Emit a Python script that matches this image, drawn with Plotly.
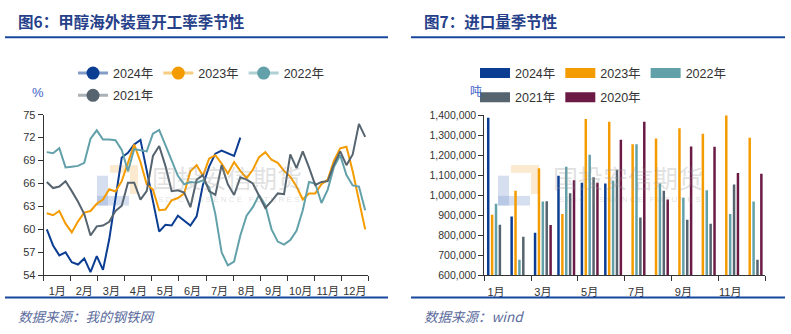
import plotly.graph_objects as go

# ---------------- data: left chart (weekly operating rate, %) ----------------
rate_2024 = [60.0, 57.9, 56.6, 57.0, 55.7, 55.4, 56.2, 54.4, 56.5, 54.7, 58.7, 64.2,
             69.4, 70.0, 71.1, 71.7, 67.8, 63.7, 59.7, 60.6, 60.5, 61.8, 61.2, 60.5,
             61.7, 65.8, 68.2, 69.9, 70.3, 70.0, 69.6, 72.0]
rate_2023 = [62.1, 61.85, 62.4, 60.75, 59.6, 61.05, 62.2, 62.4, 63.35, 63.9, 65.25, 64.95,
             66.3, 68.6, 71.1, 68.8, 65.9, 65.2, 62.5, 62.6, 63.8, 64.1, 64.7, 67.6,
             68.4, 67.0, 69.25, 69.7, 68.6, 67.3, 68.8, 67.65, 66.7, 67.8, 69.45, 70.1,
             69.1, 68.7, 67.65, 66.9, 65.6, 63.9, 64.7, 64.7, 65.9, 66.5, 69.0, 70.6,
             70.8, 67.6, 63.8, 60.0]
rate_2022 = [70.1, 69.95, 70.6, 68.1, 68.2, 68.3, 68.7, 71.85, 72.95, 71.75, 71.75, 71.65,
             70.4, 67.6, 70.5, 70.3, 70.2, 72.5, 73.0, 71.0, 69.0, 67.0, 65.9, 66.2,
             66.1, 66.4, 65.5, 62.0, 57.0, 55.3, 55.8, 59.2, 61.8, 62.9, 64.5, 63.2,
             60.0, 58.4, 58.0, 58.6, 59.8, 62.5, 66.2, 66.0, 63.45, 65.2, 68.2, 69.7,
             67.1, 65.75, 65.6, 62.5]
rate_2021 = [66.2, 65.4, 65.6, 66.3, 65.0, 63.6, 62.0, 59.2, 60.4, 60.5, 61.0, 62.4,
             63.1, 66.1, 66.1, 63.9, 65.0, 69.6, 70.9, 68.3, 65.0, 65.1, 64.8, 62.9,
             66.5, 67.1, 65.0, 64.5, 68.4, 65.9, 64.5, 66.8, 66.5, 66.0, 64.4, 62.8,
             63.7, 64.7, 64.6, 69.8, 68.0, 70.2, 68.1, 65.8, 66.2, 66.3, 68.5, 70.2,
             68.4, 69.8, 73.8, 72.1]
rate_ticks = [54, 57, 60, 63, 66, 69, 72, 75]

# ---------------- data: right chart (monthly imports, tonnes) ----------------
months = ["1月", "2月", "3月", "4月", "5月", "6月", "7月", "8月", "9月", "10月", "11月", "12月"]
imp_2024 = [1387000, 894000, 812000, 1098000, 1063000, 1059000, None, None, None, None, None, None]
imp_2023 = [902000, 1022000, 1135000, 906000, 1381000, 1368000, 1255000, 1284000, 1335000, 1308000, 1400000, 1287000]
imp_2022 = [957000, 677000, 969000, 1143000, 1202000, 1074000, 1255000, 1059000, 987000, 1025000, 906000, 969000]
imp_2021 = [853000, 793000, 970000, 1010000, 1090000, 1127000, 889000, 1022000, 878000, 857000, 1054000, 677000]
imp_2020 = [None, None, 851000, 1075000, 1063000, 1278000, 1368000, 979000, 1244000, 1242000, 1111000, 1108000]
imp_ticks = [600000, 700000, 800000, 900000, 1000000, 1100000, 1200000, 1300000, 1400000]

years = ["2024年", "2023年", "2022年", "2021年", "2020年"]
colors = {"2024年": "#0b3e93", "2023年": "#f49b00", "2022年": "#62a1a9",
          "2021年": "#55646f", "2020年": "#6a1a44"}
light = {"2024年": "rgba(11,62,147,0.5)", "2023年": "rgba(244,155,0,0.5)",
         "2022年": "rgba(98,161,169,0.5)", "2021年": "rgba(85,100,111,0.5)"}

W, H = 791, 334
def px(x):
    return x / W
def py(y):
    return 1 - y / H

fig = go.Figure()

# ---- left lines ----
def week_pos(n):
    return [(i + 0.5) * 12 / 52 for i in range(n)]

left_series = [("2024年", rate_2024), ("2023年", rate_2023), ("2022年", rate_2022), ("2021年", rate_2021)]
for name, vals in left_series:
    fig.add_trace(go.Scatter(x=week_pos(len(vals)), y=vals, mode="lines", name=name,
                             line=dict(color=colors[name], width=2), showlegend=False,
                             xaxis="x", yaxis="y"))
for name, _ in left_series:
    fig.add_trace(go.Scatter(x=[None], y=[None], mode="lines+markers", name=name,
                             line=dict(color=light[name], width=3),
                             marker=dict(color=colors[name], size=13),
                             legend="legend2" if name == "2021年" else "legend",
                             xaxis="x", yaxis="y"))

# ---- right bars ----
imp_series = [("2024年", imp_2024), ("2023年", imp_2023), ("2022年", imp_2022),
              ("2021年", imp_2021), ("2020年", imp_2020)]
month_pos = [i + 0.5 for i in range(12)]
for name, vals in imp_series:
    fig.add_trace(go.Bar(x=month_pos, y=vals, name=name, marker=dict(color=colors[name], line=dict(width=0)),
                         showlegend=False, xaxis="x2", yaxis="y2"))
for name, _ in imp_series:
    fig.add_trace(go.Scatter(x=[None], y=[None], mode="lines", name=name,
                             line=dict(color=colors[name], width=14),
                             legend="legend4" if name in ("2021年", "2020年") else "legend3",
                             xaxis="x2", yaxis="y2"))

axis_font = dict(family="Liberation Sans, Noto Sans CJK SC", size=11, color="#333333")
leg_font = dict(family="Liberation Sans, Noto Sans CJK SC", size=12.5, color="#333333")

fig.update_layout(
    width=W, height=H, margin=dict(l=0, r=0, t=0, b=0),
    paper_bgcolor="white", plot_bgcolor="white",
    barmode="group", bargap=0.17, bargroupgap=0.36,
    xaxis=dict(domain=[px(43.7), px(368.3)], range=[0, 12], anchor="y",
               tickmode="array", tickvals=month_pos, ticktext=months,
               ticks="outside", ticklen=6, tickcolor="rgba(0,0,0,0)",
               showline=True, linecolor="#333333", linewidth=1, showgrid=False, zeroline=False,
               tickfont=axis_font,
               minor=dict(tickmode="linear", tick0=0, dtick=1, ticks="outside", ticklen=5,
                          tickcolor="#333333", showgrid=False)),
    yaxis=dict(domain=[py(279.3), py(112.7)], range=[54, 75], anchor="x",
               tickmode="array", tickvals=rate_ticks, ticks="outside", ticklen=5,
               tickcolor="#333333", showline=True, linecolor="#333333", linewidth=1,
               showgrid=False, zeroline=False, tickfont=axis_font),
    xaxis2=dict(domain=[px(484.3), px(765.3)], range=[0, 12], anchor="y2",
                tickmode="array", tickvals=[month_pos[i] for i in range(0, 12, 2)],
                ticktext=[months[i] for i in range(0, 12, 2)],
                ticks="outside", ticklen=7, tickcolor="rgba(0,0,0,0)",
                showline=True, linecolor="#333333", linewidth=1, showgrid=False, zeroline=False,
                tickfont=axis_font,
                minor=dict(tickmode="linear", tick0=0, dtick=2, ticks="outside", ticklen=5,
                           tickcolor="#333333", showgrid=False)),
    yaxis2=dict(domain=[py(279.3), py(113.3)], range=[600000, 1400000], anchor="x2",
                tickmode="array", tickvals=imp_ticks, tickformat=",", ticks="outside", ticklen=5,
                tickcolor="#333333", showline=True, linecolor="#333333", linewidth=1,
                showgrid=False, zeroline=False,
                tickfont=dict(family="Liberation Sans", size=10.5, color="#333333")),
    legend=dict(orientation="h", x=px(73), y=py(70), xanchor="left", yanchor="middle",
                font=leg_font, bgcolor="rgba(0,0,0,0)", traceorder="normal"),
    legend2=dict(orientation="h", x=px(73), y=py(93), xanchor="left", yanchor="middle",
                 font=leg_font, bgcolor="rgba(0,0,0,0)"),
    legend3=dict(orientation="h", x=px(475), y=py(70), xanchor="left", yanchor="middle",
                 font=leg_font, bgcolor="rgba(0,0,0,0)", traceorder="normal"),
    legend4=dict(orientation="h", x=px(475), y=py(95), xanchor="left", yanchor="middle",
                 font=leg_font, bgcolor="rgba(0,0,0,0)", traceorder="normal"),
)

title_font = dict(family="Noto Sans CJK SC", size=15.5, color="#26408a", weight="bold")
foot_font = dict(family="Noto Sans CJK SC, Liberation Sans", size=13.5, color="#5b6b9c", style="italic")
ann = [
    dict(text="图6：甲醇海外装置开工率季节性", x=px(16), y=py(16), xanchor="left", yanchor="middle", font=title_font),
    dict(text="图7：进口量季节性", x=px(422), y=py(16), xanchor="left", yanchor="middle", font=title_font),
    dict(text="数据来源：我的钢铁网", x=px(16), y=py(322), xanchor="left", yanchor="middle", font=foot_font),
    dict(text="数据来源：wind", x=px(422), y=py(322), xanchor="left", yanchor="middle", font=foot_font),
    dict(text="%", x=px(38), y=py(90), xanchor="center", yanchor="middle",
         font=dict(family="Liberation Sans", size=13, color="#3d63c9")),
    dict(text="吨", x=px(476), y=py(88), xanchor="center", yanchor="middle",
         font=dict(family="Noto Sans CJK SC", size=12, color="#3d63c9")),
]
for dx in (0, 401):
    ann.append(dict(text="国投安信期货", x=px(150 + dx), y=py(177), xanchor="left", yanchor="middle",
                    font=dict(family="Noto Sans CJK SC", size=25, color="rgba(150,150,150,0.3)")))
    ann.append(dict(text="S D I C   E S S E N C E   F U T U R E S", x=px(156 + dx), y=py(201), xanchor="left",
                    yanchor="middle", font=dict(family="Liberation Sans", size=8, color="rgba(150,150,150,0.3)")))
for a in ann:
    a.update(xref="paper", yref="paper", showarrow=False)
fig.update_layout(annotations=ann)

shapes = []
for (x0, x1) in ((5, 388), (411, 785)):
    for yy in (32.3, 302.3):
        shapes.append(dict(type="line", xref="paper", yref="paper", x0=px(x0), x1=px(x1), y0=py(yy), y1=py(yy),
                           line=dict(color="#17479e", width=2)))
for dx in (0, 401):
    shapes.append(dict(type="rect", xref="paper", yref="paper", x0=px(97 + dx), x1=px(108 + dx),
                       y0=py(207), y1=py(176), fillcolor="rgba(120,150,205,0.3)", line=dict(width=0), layer="below"))
    shapes.append(dict(type="rect", xref="paper", yref="paper", x0=px(97 + dx), x1=px(129 + dx),
                       y0=py(207), y1=py(197), fillcolor="rgba(120,150,205,0.3)", line=dict(width=0), layer="below"))
    shapes.append(dict(type="rect", xref="paper", yref="paper", x0=px(110 + dx), x1=px(138 + dx),
                       y0=py(173), y1=py(165), fillcolor="rgba(245,185,100,0.3)", line=dict(width=0), layer="below"))
    shapes.append(dict(type="rect", xref="paper", yref="paper", x0=px(130 + dx), x1=px(138 + dx),
                       y0=py(195), y1=py(173), fillcolor="rgba(245,185,100,0.3)", line=dict(width=0), layer="below"))
fig.update_layout(shapes=shapes)

fig.write_html("out.html")
